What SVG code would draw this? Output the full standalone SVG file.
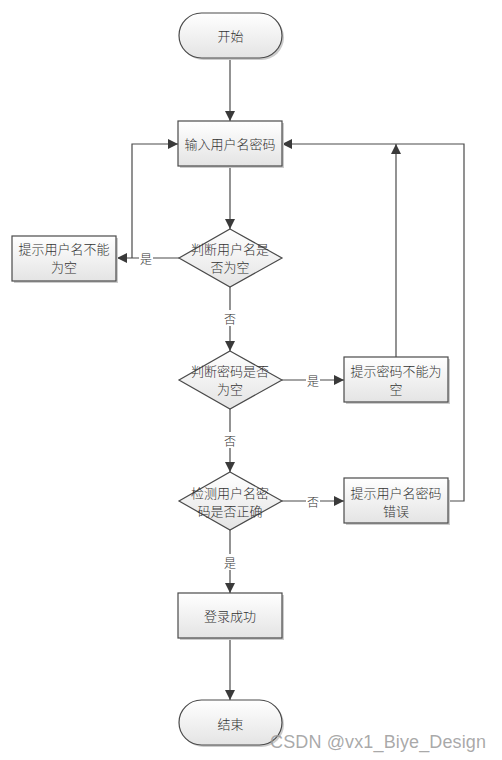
<svg xmlns="http://www.w3.org/2000/svg" width="502" height="760" viewBox="0 0 502 760">
<style>
.shape{fill:url(#g);stroke:#4a4a4a;stroke-width:1.2}
.shadow{fill:#cccccc}
.t{font-family:"Noto Sans CJK SC","Liberation Sans",sans-serif;font-size:13px;font-weight:300;fill:#333;text-anchor:middle;dominant-baseline:central}
.lbl{font-family:"Noto Sans CJK SC","Liberation Sans",sans-serif;font-size:12px;font-weight:300;fill:#333;text-anchor:middle;dominant-baseline:central}
.c{fill:none;stroke:#4a4a4a;stroke-width:1.2}
.bg{fill:#fff}
</style>
<defs>
<linearGradient id="g" x1="0" y1="0" x2="0" y2="1">
<stop offset="0" stop-color="#ffffff"/>
<stop offset="1" stop-color="#e4e4e4"/>
</linearGradient>
<marker id="a" viewBox="0 0 10 10" refX="10" refY="5" markerWidth="10" markerHeight="10" markerUnits="userSpaceOnUse" orient="auto">
<path d="M0,0 L10,5 L0,10 Z" fill="#3a3a3a"/>
</marker>
</defs>
<rect width="502" height="760" fill="#fff"/>
<g id="connectors">
<path class="c" d="M230,58 V121" marker-end="url(#a)"/>
<path class="c" d="M230,166 V229" marker-end="url(#a)"/>
<path class="c" d="M179,258 H117" marker-end="url(#a)"/>
<path class="c" d="M132,258 V144 H178" marker-end="url(#a)"/>
<path class="c" d="M230,287 V351" marker-end="url(#a)"/>
<path class="c" d="M282,380 H344" marker-end="url(#a)"/>
<path class="c" d="M396,357 V144" marker-end="url(#a)"/>
<path class="c" d="M230,409 V472" marker-end="url(#a)"/>
<path class="c" d="M282,501 H344" marker-end="url(#a)"/>
<path class="c" d="M449,501 H464 V144 H282" marker-end="url(#a)"/>
<path class="c" d="M230,530 V593" marker-end="url(#a)"/>
<path class="c" d="M230,638 V700" marker-end="url(#a)"/>
<rect class="bg" x="139" y="250" width="14" height="16"/>
<text class="lbl" x="146" y="258">是</text>
<rect class="bg" x="223" y="310" width="14" height="16"/>
<text class="lbl" x="230" y="318">否</text>
<rect class="bg" x="306" y="372" width="14" height="16"/>
<text class="lbl" x="313" y="380">是</text>
<rect class="bg" x="223" y="432" width="14" height="16"/>
<text class="lbl" x="230" y="440">否</text>
<rect class="bg" x="306" y="493" width="14" height="16"/>
<text class="lbl" x="313" y="501">否</text>
<rect class="bg" x="223" y="554" width="14" height="16"/>
<text class="lbl" x="230" y="562">是</text>
</g>
<g id="start">
<rect class="shadow" x="181" y="15" width="103" height="45" rx="22.5"/>
<rect class="shape" x="179" y="13" width="103" height="45" rx="22.5"/>
<text class="t" x="230.5" y="35">开始</text>
</g>
<g id="input">
<rect class="shadow" x="180" y="123" width="104" height="45"/>
<rect class="shape" x="178" y="121" width="104" height="45"/>
<text class="t" x="230" y="143">输入用户名密码</text>
</g>
<g id="check-user">
<path class="shape" d="M230,229 L282,258 L230,287 L179,258 Z"/>
<text class="t" x="230" y="248">判断用户名是</text>
<text class="t" x="230" y="266">否为空</text>
</g>
<g id="user-empty">
<rect class="shadow" x="14" y="238" width="104" height="45"/>
<rect class="shape" x="12" y="236" width="104" height="45"/>
<text class="t" x="64" y="248">提示用户名不能</text>
<text class="t" x="64" y="266">为空</text>
</g>
<g id="check-pwd">
<path class="shape" d="M230,351 L282,380 L230,409 L179,380 Z"/>
<text class="t" x="230" y="370">判断密码是否</text>
<text class="t" x="230" y="388">为空</text>
</g>
<g id="pwd-empty">
<rect class="shadow" x="346" y="359" width="104" height="45"/>
<rect class="shape" x="344" y="357" width="104" height="45"/>
<text class="t" x="396" y="370">提示密码不能为</text>
<text class="t" x="396" y="388">空</text>
</g>
<g id="verify">
<path class="shape" d="M230,472 L282,501 L230,530 L179,501 Z"/>
<text class="t" x="230" y="492">检测用户名密</text>
<text class="t" x="230" y="510">码是否正确</text>
</g>
<g id="wrong">
<rect class="shadow" x="346" y="480" width="104" height="45"/>
<rect class="shape" x="344" y="478" width="104" height="45"/>
<text class="t" x="396" y="492">提示用户名密码</text>
<text class="t" x="396" y="510">错误</text>
</g>
<g id="success">
<rect class="shadow" x="180" y="595" width="104" height="45"/>
<rect class="shape" x="178" y="593" width="104" height="45"/>
<text class="t" x="230" y="615">登录成功</text>
</g>
<g id="end">
<rect class="shadow" x="181" y="702" width="103" height="45" rx="22.5"/>
<rect class="shape" x="179" y="700" width="103" height="45" rx="22.5"/>
<text class="t" x="230.5" y="723">结束</text>
</g>
<text x="270" y="742" font-family="'Liberation Sans',sans-serif" font-size="18" textLength="216" fill="#9a9a9a" fill-opacity="0.85" dominant-baseline="central">CSDN @vx1_Biye_Design</text>
</svg>
